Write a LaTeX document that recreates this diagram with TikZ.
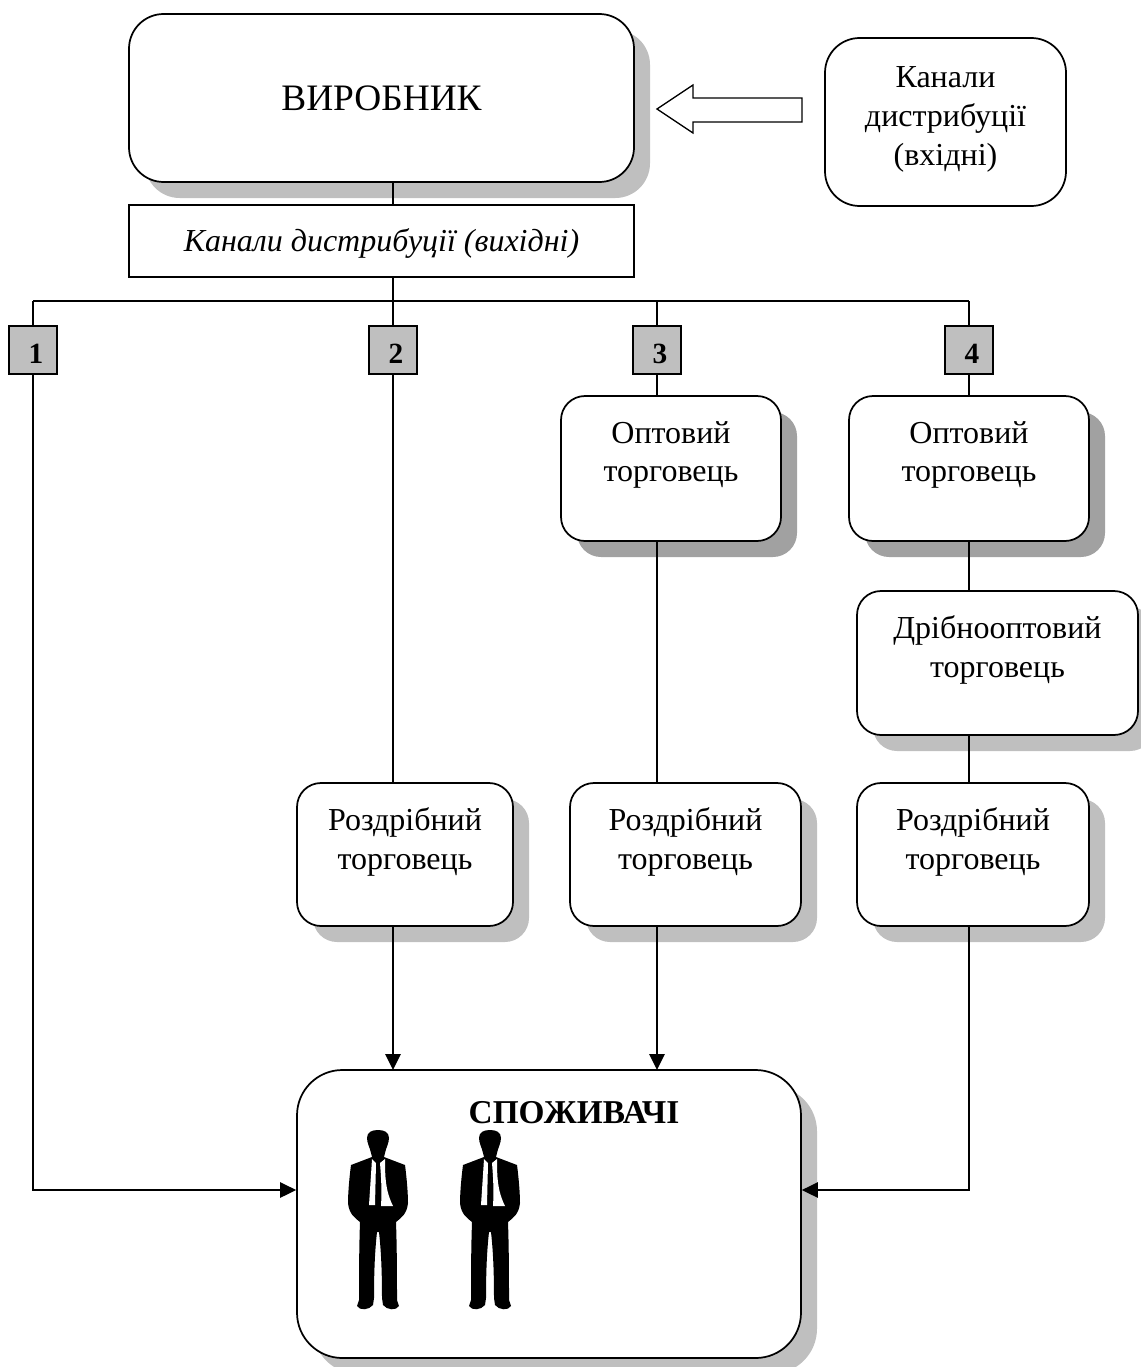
\documentclass[tikz,border=0pt]{standalone}
\usepackage{fontspec}
\setmainfont{Liberation Serif}
\usetikzlibrary{arrows.meta}
\tikzset{
  firm/.style={draw=black,line width=1.3pt,fill=white,rounded corners=26pt,align=center,font=\fontsize{24}{29}\selectfont,inner sep=0pt},
  shade/.style={fill=black!25,rounded corners=26pt,draw=none},
  darkshade/.style={fill=black!37,rounded corners=18pt,draw=none},
  num/.style={draw=black,line width=1.3pt,fill=black!25,minimum size=36pt,inner sep=0pt},
  numtext/.style={inner sep=0pt,font=\fontsize{22}{24}\selectfont\bfseries},
  link/.style={draw=black,line width=1.3pt},
  tip/.style={link,-{Triangle[length=12pt,width=11.5pt]}},
  person/.pic={
    \fill[black] (0,0) .. controls (6,0) and (11,2) .. (11,8) .. controls (11,13) and (8,18) .. (7,23)
      -- (6,27) -- (27,35) .. controls (29,50) and (30,65) .. (30,73) .. controls (29,84) and (23,88) .. (18,92)
      .. controls (19,120) and (19,150) .. (19,170) -- (21,176) .. controls (18,181) and (9,180) .. (5,175)
      -- (4,168) .. controls (4,140) and (3,120) .. (1,102) -- (-1,102) .. controls (-3,120) and (-4,140) .. (-4,168)
      -- (-5,175) .. controls (-9,180) and (-18,181) .. (-21,176) -- (-19,170) .. controls (-19,150) and (-19,120) .. (-18,92)
      .. controls (-23,88) and (-29,84) .. (-30,73) .. controls (-30,65) and (-29,50) .. (-27,35) -- (-6,27) -- (-7,23)
      .. controls (-8,18) and (-11,13) .. (-11,8) .. controls (-11,2) and (-6,0) .. (0,0) -- cycle;
    \fill[white] (-6,29) -- (-2,33) -- (-3,75) -- (-9,75) .. controls (-8,60) and (-7,45) .. (-6,29) -- cycle;
    \fill[white] (2,33) -- (7,29) .. controls (7,45) and (7,60) .. (15,76) -- (3,76) .. controls (4,60) and (3,45) .. (2,33) -- cycle;
  }
}
\begin{document}
\begin{tikzpicture}[x=0.75pt,y=-0.75pt]
  \useasboundingbox (0,0) rectangle (1141,1367);

  % shadows
  \fill[shade] (145,30) rectangle (650,198);
  \fill[darkshade] (577,412) rectangle (797,557);
  \fill[darkshade] (865,412) rectangle (1105,557);
  \fill[shade,rounded corners=18pt] (873,607) rectangle (1154,751);
  \fill[shade,rounded corners=18pt] (313,799) rectangle (529,942);
  \fill[shade,rounded corners=18pt] (586,799) rectangle (817,942);
  \fill[shade,rounded corners=18pt] (873,799) rectangle (1105,942);
  \fill[shade,rounded corners=34pt] (313,1086) rectangle (817,1374);

  % boxes
  \node[firm,minimum width=378.75pt,minimum height=126pt] (maker) at (381.5,98) {\fontsize{28}{32}\selectfont ВИРОБНИК};
  \node[firm,minimum width=180.75pt,minimum height=126pt,text depth=9pt] (inbound) at (945.5,122) {Канали\\дистрибуції\\(вхідні)};
  \node[firm,rounded corners=0pt,minimum width=378.75pt,minimum height=54pt,text height=21pt,font=\fontsize{24}{29}\selectfont\itshape] (outbound) at (381.5,241) {Канали дистрибуції (вихідні)};

  \node[num] (n1) at (33,350) {};
  \node[num] (n2) at (393,350) {};
  \node[num] (n3) at (657,350) {};
  \node[num] (n4) at (969,350) {};
  \node[numtext] (t1) at (36,354) {1};
  \node[numtext] (t2) at (396,354) {2};
  \node[numtext] (t3) at (660,354) {3};
  \node[numtext] (t4) at (972,354) {4};

  \node[firm,rounded corners=18pt,minimum width=165pt,minimum height=108.75pt,text depth=25.5pt] (whole3) at (671,468.5) {Оптовий\\торговець};
  \node[firm,rounded corners=18pt,minimum width=180pt,minimum height=108.75pt,text depth=25.5pt] (whole4) at (969,468.5) {Оптовий\\торговець};
  \node[firm,rounded corners=18pt,minimum width=210.75pt,minimum height=108pt,text depth=25pt] (small4) at (997.5,663) {Дрібнооптовий\\торговець};
  \node[firm,rounded corners=18pt,minimum width=162pt,minimum height=107.25pt,text depth=24pt] (retail2) at (405,854.5) {Роздрібний\\торговець};
  \node[firm,rounded corners=18pt,minimum width=173.25pt,minimum height=107.25pt,text depth=24pt] (retail3) at (685.5,854.5) {Роздрібний\\торговець};
  \node[firm,rounded corners=18pt,minimum width=174pt,minimum height=107.25pt,text depth=24pt] (retail4) at (973,854.5) {Роздрібний\\торговець};
  \node[firm,rounded corners=34pt,minimum width=378pt,minimum height=216pt] (buyers) at (549,1214) {};
  \node[inner sep=0pt,font=\fontsize{25}{29}\selectfont\bfseries] (buyerstext) at (574,1113) {СПОЖИВАЧІ};

  \pic at (378,1130) {person};
  \pic at (490,1130) {person};

  % connectors
  \coordinate (top) at (393,301);
  \coordinate (turn1) at (33,301);
  \coordinate (turn4) at (969,301);
  \coordinate (low1) at (33,1190);
  \coordinate (low4) at (969,1190);

  \draw[link] (393,182) -- (393,205);
  \draw[link] (393,277) -- (top);
  \draw[link] (turn1) -- (turn4);
  \draw[link] (turn1) -- (n1.north);
  \draw[link] (top) -- (n2.north);
  \draw[link] (657,301) -- (n3.north);
  \draw[link] (turn4) -- (n4.north);
  \draw[tip] (n1.south) -- (low1) -- (buyers.west |- low1);
  \draw[link] (n2.south) -- (393,783);
  \draw[link] (n3.south) -- (657,396);
  \draw[link] (n4.south) -- (969,396);
  \draw[link] (657,541) -- (657,783);
  \draw[link] (969,541) -- (969,591);
  \draw[link] (969,735) -- (969,783);
  \draw[tip] (393,926) -- (393,1070);
  \draw[tip] (657,926) -- (657,1070);
  \draw[tip] (969,926) -- (low4) -- (buyers.east |- low4);

  % arrow
  \draw[line width=1pt,fill=white,line join=miter] (802,98) -- (693,98) -- (693,85) -- (657,109) -- (693,133) -- (693,122) -- (802,122) -- cycle;
\end{tikzpicture}
\end{document}
